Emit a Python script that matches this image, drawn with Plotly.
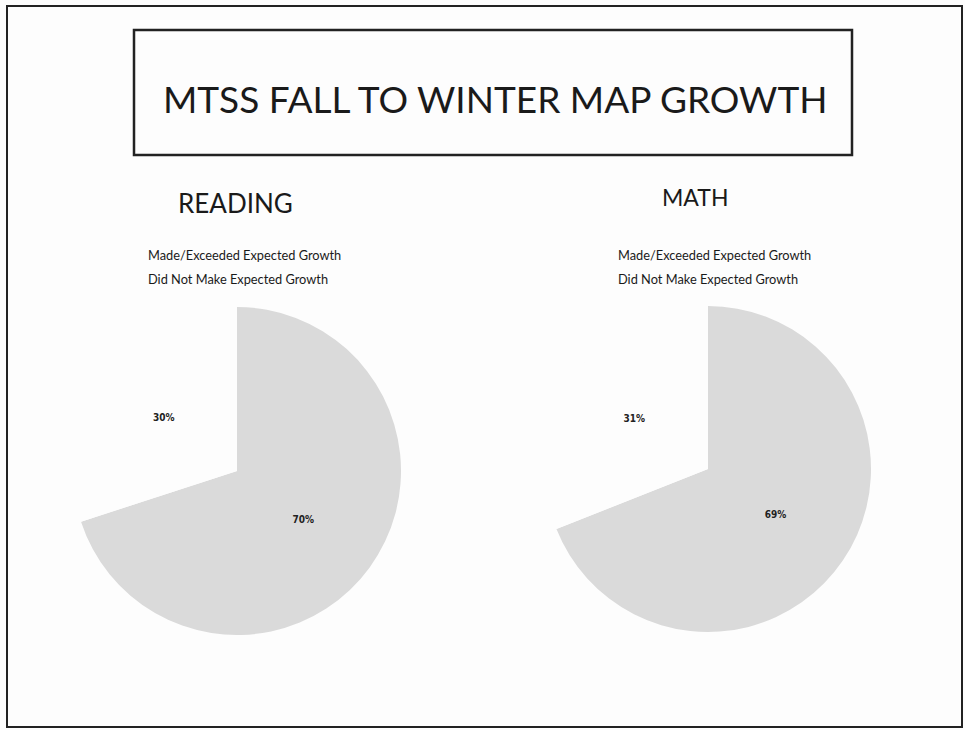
import plotly.graph_objects as go

W, H = 965, 730

title_text = "MTSS FALL TO WINTER MAP GROWTH"
subjects = ["READING", "MATH"]
labels = ["Made/Exceeded Expected Growth", "Did Not Make Expected Growth"]
reading_values = [70, 30]
math_values = [69, 31]
slice_colors = ["#dadada", "#fdfdfd"]

FONT = "Lato, 'Open Sans', sans-serif"


def px(x):
    return x / W


def py(y):
    return 1 - y / H


fig = go.Figure()

pie_geo = [
    (reading_values, (237, 471, 164)),
    (math_values, (708, 469, 163)),
]
for vals, (cx, cy, r) in pie_geo:
    fig.add_trace(go.Pie(
        labels=labels,
        values=vals,
        sort=False,
        direction="clockwise",
        rotation=0,
        marker=dict(colors=slice_colors, line=dict(width=0)),
        textinfo="percent",
        textposition="inside",
        insidetextorientation="horizontal",
        textfont=dict(family="'DejaVu Sans Condensed', sans-serif", size=10, color="#222222", weight="bold"),
        domain=dict(x=[px(cx - r), px(cx + r)], y=[py(cy + r), py(cy - r)]),
        showlegend=False,
        hoverinfo="label+percent",
    ))

annotations = [
    dict(text=title_text, x=px(495), y=py(98), xanchor="center", yanchor="middle",
         font=dict(family=FONT, size=37, color="#1a1a1a")),
    dict(text=subjects[0], x=px(176), y=py(203), xanchor="left", yanchor="middle",
         font=dict(family=FONT, size=26, color="#1a1a1a")),
    dict(text=subjects[1], x=px(660), y=py(197), xanchor="left", yanchor="middle",
         font=dict(family=FONT, size=23, color="#1a1a1a")),
]
for x0 in (146, 616):
    for i, lab in enumerate(labels):
        annotations.append(dict(
            text=lab, x=px(x0), y=py(255 + 24 * i), xanchor="left", yanchor="middle",
            font=dict(family=FONT, size=12.8, color="#1a1a1a")))
for a in annotations:
    a.update(xref="paper", yref="paper", showarrow=False)

shapes = [
    dict(type="rect", xref="paper", yref="paper", x0=px(7), x1=px(962), y0=py(727), y1=py(6),
         line=dict(color="#222222", width=2)),
    dict(type="rect", xref="paper", yref="paper", x0=px(134), x1=px(852), y0=py(155), y1=py(30),
         line=dict(color="#222222", width=2.5)),
]

fig.update_layout(
    width=W, height=H,
    margin=dict(l=0, r=0, t=0, b=0),
    paper_bgcolor="#fdfdfd",
    plot_bgcolor="#fdfdfd",
    annotations=annotations,
    shapes=shapes,
)

fig.write_html(
    "out.html",
    config={"displayModeBar": False},
    post_script="document.body.style.margin='0';document.body.style.overflow='hidden';",
)
